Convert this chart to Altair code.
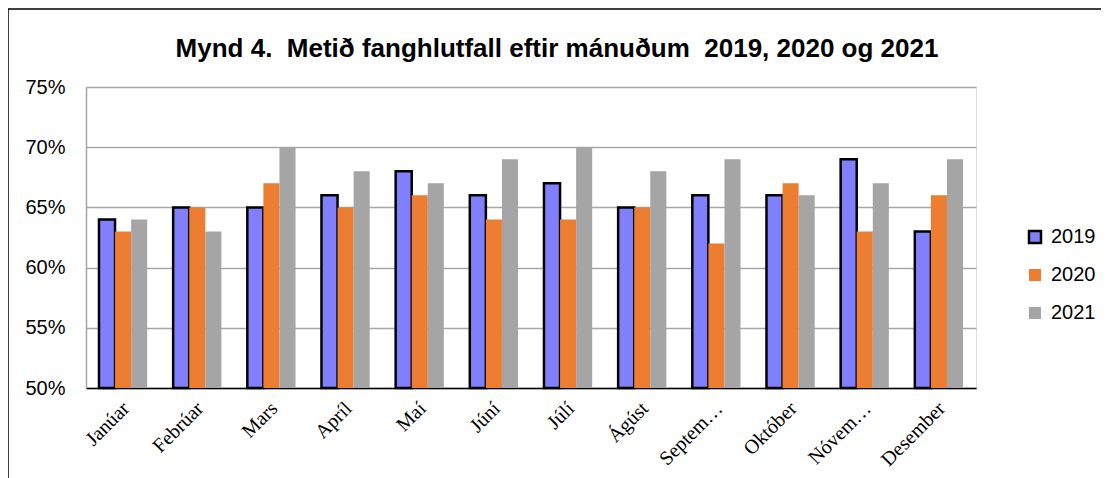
import altair as alt
import pandas as pd

title_text = "Mynd 4.\u00a0 Metið fanghlutfall eftir mánuðum\u00a0 2019, 2020 og 2021"
months = ["Janúar", "Febrúar", "Mars", "Apríl", "Maí", "Júní", "Júlí",
          "Ágúst", "Septem…", "Október", "Nóvem…", "Desember"]
years = ["2019", "2020", "2021"]
v2019 = [64, 65, 65, 66, 68, 66, 67, 65, 66, 66, 69, 63]
v2020 = [63, 65, 67, 65, 66, 64, 64, 65, 62, 67, 63, 66]
v2021 = [64, 63, 70, 68, 67, 69, 70, 68, 69, 66, 67, 69]
colors = ["#8080FF", "#ED7D31", "#A5A5A5"]
strokes = ["#000000", "transparent", "transparent"]
y_ticks = [0.50, 0.55, 0.60, 0.65, 0.70, 0.75]

rows = []
for yr, vals in zip(years, [v2019, v2020, v2021]):
    for m, v in zip(months, vals):
        rows.append({"month": m, "year": yr, "value": v / 100})
df = pd.DataFrame(rows)

bars = alt.Chart(df).mark_bar().encode(
    x=alt.X("month:N", sort=months, title=None,
            scale=alt.Scale(paddingInner=0.35, paddingOuter=0.175),
            axis=alt.Axis(labelAngle=-45, labelFont="Liberation Serif",
                          labelFontSize=20, labelColor="#000000",
                          ticks=False, domainColor="#000000", domainWidth=1.5,
                          labelPadding=10, labelOffset=-4, labelLimit=200, grid=False)),
    xOffset=alt.XOffset("year:N", sort=years),
    y=alt.Y("value:Q", title=None,
            scale=alt.Scale(domain=[0.5, 0.75], zero=False, nice=False),
            axis=alt.Axis(values=y_ticks, format=".0%", labelFont="Liberation Sans",
                          labelFontSize=20, labelColor="#000000", labelPadding=21,
                          ticks=False, domainColor="#A6A6A6", domainWidth=1.5,
                          gridColor="#A6A6A6", gridWidth=1.5)),
    y2=alt.datum(0.5),
    fill=alt.Fill("year:N", sort=years,
                  scale=alt.Scale(domain=years, range=colors),
                  legend=alt.Legend(title=None, orient="none", legendX=939, legendY=140,
                                    symbolType="square", symbolSize=144,
                                    symbolStrokeWidth=2.5, rowPadding=16,
                                    labelFont="Liberation Sans", labelFontSize=20,
                                    labelColor="#000000", labelOffset=6)),
    stroke=alt.Stroke("year:N", sort=years,
                      scale=alt.Scale(domain=years, range=strokes)),
    strokeWidth=alt.value(2.5),
)

frame_df = pd.DataFrame({"k": [0]})
left_line = alt.Chart(frame_df).mark_rule(color="#000000", strokeWidth=1.5).encode(
    x=alt.value(-78), y=alt.value(-78), y2=alt.value(400))
top_line = alt.Chart(frame_df).mark_rule(color="#000000", strokeWidth=1.5).encode(
    x=alt.value(-78), x2=alt.value(1100), y=alt.value(-78))
title = alt.Chart(frame_df).mark_text(
    text=title_text, font="Liberation Sans", fontSize=26, fontWeight="bold",
    color="#000000", align="center", baseline="alphabetic").encode(
    x=alt.value(471), y=alt.value(-30))

chart = alt.layer(bars, left_line, top_line, title).properties(
    width=890, height=301,
    autosize=alt.AutoSizeParams(type="none"),
    padding={"left": 78, "top": 79, "right": 125, "bottom": 90},
).configure_view(stroke=None).configure(background="white")

chart.save("out.html", embed_options={"renderer": "svg", "actions": False})
